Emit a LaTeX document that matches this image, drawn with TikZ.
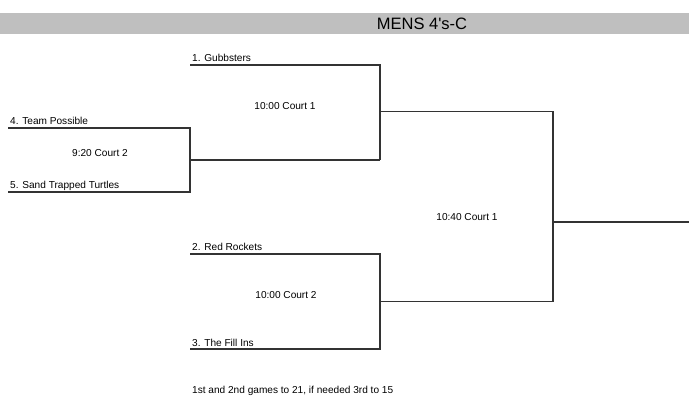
\documentclass[tikz,border=0pt]{standalone}
\usepackage{fontspec}
\setmainfont{Liberation Sans}
\begin{document}
\begin{tikzpicture}[x=1pt,y=-1pt,
  team/.style={anchor=base west, inner sep=0pt, font=\fontsize{10.1}{12}\selectfont},
  game/.style={inner sep=0pt, font=\fontsize{10.1}{12}\selectfont},
  bline/.style={line width=1.1pt, black!80}]
\useasboundingbox (0,0) rectangle (689,401);
% title bar
\fill[black!25] (0,13) rectangle (689,34);
\node[inner sep=0pt, font=\fontsize{16.5}{18}\selectfont] (title) at (422,23.5) {MENS 4\textquotesingle s-C};
% first round
\coordinate (t4) at (8,128) ; \coordinate (t4r) at (190,128) ;
\coordinate (t5) at (8,192) ; \coordinate (t5r) at (190,192) ;
\coordinate (w45) at (190,160) ;
% second round
\coordinate (t1) at (190,65) ;  \coordinate (t1r) at (380,65) ;
\coordinate (s1) at (380,160) ;
\coordinate (t2) at (190,254) ; \coordinate (t2r) at (380,254) ;
\coordinate (t3) at (190,349) ; \coordinate (t3r) at (380,349) ;
\coordinate (w1) at (380,111.5) ; \coordinate (w23) at (380,301.5) ;
% final
\coordinate (f1) at (553,111.5) ; \coordinate (f2) at (553,301.5) ;
\coordinate (champ) at (553,222) ; \coordinate (champr) at (689,222) ;
% team names
\node[team] (n1) at (192,62) {1. Gubbsters};
\node[team] (n4) at (10,125) {4. Team Possible};
\node[team] (n5) at (10,189) {5. Sand Trapped Turtles};
\node[team] (n2) at (192,251) {2. Red Rockets};
\node[team] (n3) at (192,346) {3. The Fill Ins};
% game times
\node[game] (g45) at (100,153) {9:20 Court 2};
\node[game] (g14) at (285,106) {10:00 Court 1};
\node[game] (g23) at (286,295) {10:00 Court 2};
\node[game] (gf) at (467,217) {10:40 Court 1};
% brackets
\draw[bline] (t4) -- (t4r) -- (t5r) -- (t5) ;
\draw[bline] (w45) -- (s1) ;
\draw[bline] (t1) -- (t1r) -- (s1) ;
\draw[bline] (t2) -- (t2r) -- (t3r) -- (t3) ;
\draw[bline] (w1) -- (f1) -- (f2) -- (w23) ;
\draw[bline] (champ) -- (champr) ;
\node[team] (note) at (192,393) {1st and 2nd games to 21, if needed 3rd to 15};
\end{tikzpicture}
\end{document}
